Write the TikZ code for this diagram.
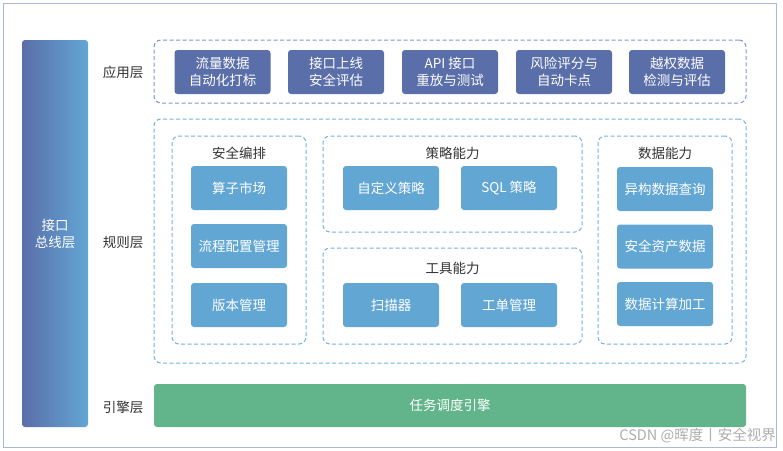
\documentclass[tikz,border=0pt]{standalone}
\usepackage{fontspec}
\setmainfont{Noto Sans CJK SC}
\usepackage{tikz}
\usetikzlibrary{positioning}

\definecolor{appblue}{HTML}{5A6EA9}
\definecolor{ruleblue}{HTML}{62A6D4}
\definecolor{enggreen}{HTML}{62B58A}
\definecolor{appdash}{HTML}{7F96C9}
\definecolor{ruledash}{HTML}{72B3E0}
\definecolor{framecol}{HTML}{A9B7D8}
\definecolor{labelgray}{HTML}{333333}

\begin{document}
\begin{tikzpicture}[x=1pt, y=-1pt,
    every node/.style={inner sep=0pt, align=center},
    appbox/.style={fill=appblue, rounded corners=3pt, text=white,
        minimum width=96pt, minimum height=44pt, font=\fontsize{13.5}{17}\selectfont},
    rulebox/.style={fill=ruleblue, rounded corners=3pt, text=white,
        minimum width=96pt, minimum height=44pt, font=\fontsize{13.5}{17}\selectfont},
    grpbox/.style={draw=ruledash, line width=1pt, dash pattern=on 4pt off 2.5pt,
        rounded corners=7pt},
    grptitle/.style={text=labelgray, font=\fontsize{13.5}{17}\selectfont},
    layerlabel/.style={text=labelgray, font=\fontsize{13.5}{17}\selectfont}]
    \useasboundingbox (0,0) rectangle (783,450);
    % outer frame
    \draw[framecol, line width=1pt] (3,3) rectangle (776,447);
    % interface bus
    \node[shading=axis, left color=appblue, right color=ruleblue, rounded corners=3pt,
        minimum width=66pt, minimum height=387pt, text=white,
        font=\fontsize{13.5}{17}\selectfont] (bus) at (55,233.5) {接口\\总线层};
    % layer labels
    \node[layerlabel] (lapp) at (123,72) {应用层};
    \node[layerlabel] (lrule) at (123,242) {规则层};
    \node[layerlabel] (leng) at (123,407) {引擎层};
    % application layer
    \node[grpbox, draw=appdash, minimum width=592pt, minimum height=63pt] (app) at (450,71.5) {};
    \node[appbox] (a1) at (222.5,72) {流量数据\\自动化打标};
    \node[appbox] (a2) at (336,72) {接口上线\\安全评估};
    \node[appbox] (a3) at (450,72) {API 接口\\重放与测试};
    \node[appbox] (a4) at (564,72) {风险评分与\\自动卡点};
    \node[appbox] (a5) at (677,72) {越权数据\\检测与评估};
    % rule layer
    \node[grpbox, minimum width=592pt, minimum height=244pt] (rule) at (450,241) {};
    \node[grpbox, minimum width=134pt, minimum height=208pt] (orch) at (239,240) {};
    \node[grptitle] (torch) at (239,153) {安全编排};
    \node[rulebox] (o1) at (239,188) {算子市场};
    \node[rulebox] (o2) at (239,246) {流程配置管理};
    \node[rulebox] (o3) at (239,305) {版本管理};
    \node[grpbox, minimum width=259pt, minimum height=96pt] (pol) at (452.5,184) {};
    \node[grptitle] (tpol) at (452.5,153) {策略能力};
    \node[rulebox] (p1) at (391,188) {自定义策略};
    \node[rulebox] (p2) at (509,188) {SQL 策略};
    \node[grpbox, minimum width=259pt, minimum height=96pt] (tool) at (452.5,296) {};
    \node[grptitle] (ttool) at (452.5,268) {工具能力};
    \node[rulebox] (t1) at (391,305) {扫描器};
    \node[rulebox] (t2) at (509,305) {工单管理};
    \node[grpbox, minimum width=134pt, minimum height=208pt] (data) at (665,240) {};
    \node[grptitle] (tdata) at (665,153) {数据能力};
    \node[rulebox] (d1) at (665,189) {异构数据查询};
    \node[rulebox] (d2) at (665,246.5) {安全资产数据};
    \node[rulebox] (d3) at (665,304) {数据计算加工};
    % engine layer
    \node[fill=enggreen, rounded corners=3pt, minimum width=592pt, minimum height=43pt,
        text=white, font=\fontsize{13.5}{17}\selectfont] (eng) at (450,405.5) {任务调度引擎};
    % watermark
    \node[anchor=east, text=black!32, font=\fontsize{14.5}{17}\selectfont] (mark) at (776,436) {CSDN @晖度丨安全视界};
\end{tikzpicture}
\end{document}
